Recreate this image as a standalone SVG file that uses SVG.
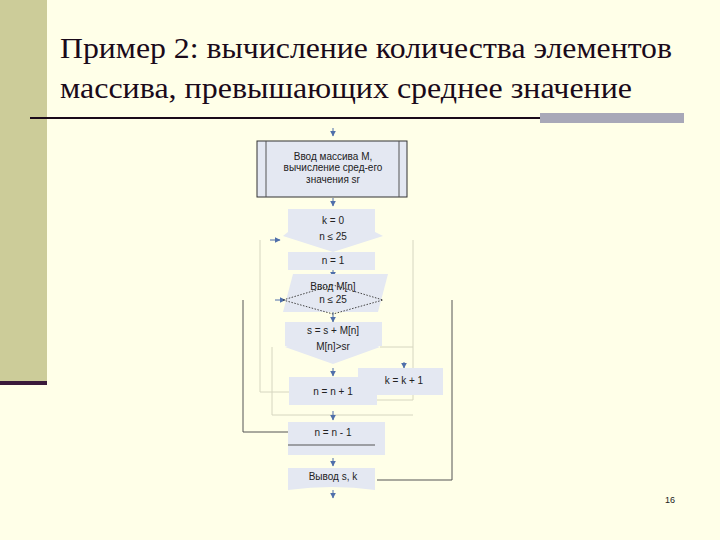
<svg xmlns="http://www.w3.org/2000/svg" width="720" height="540" viewBox="0 0 720 540">
<defs>
<marker id="ah" viewBox="0 0 10 10" refX="9" refY="5" markerWidth="6" markerHeight="6" orient="auto"><path d="M0,0L10,5L0,10z" fill="#4F6FAA"/></marker>
<style>
.b{fill:#E4E8F2;stroke:none}
.t{font-family:"Liberation Sans",Arial,sans-serif;font-size:10px;fill:#222;text-anchor:middle}
.f{fill:none;stroke:#D6D6C0;stroke-width:1}
.d{fill:none;stroke:#555;stroke-width:1}
.a{fill:none;stroke:#4F6FAA;stroke-width:1;marker-end:url(#ah)}
</style>
</defs>
<rect width="720" height="540" fill="#FFFFE8"/>
<rect x="0" y="0" width="47" height="383" fill="#CCCC99"/>
<rect x="0" y="381" width="47" height="4" fill="#3A1A3A"/>
<text x="60" y="58" font-family="Liberation Serif,serif" font-size="29" fill="#1a0a1a" textLength="612" lengthAdjust="spacingAndGlyphs">Пример 2: вычисление количества элементов</text>
<text x="60" y="98" font-family="Liberation Serif,serif" font-size="29" fill="#1a0a1a" textLength="572" lengthAdjust="spacingAndGlyphs">массива, превышающих среднее значение</text>
<rect x="30" y="117" width="512" height="2" fill="#1a0a1a"/>
<rect x="540" y="113" width="144" height="10" fill="#A8A8B8"/>
<g id="connectors">
<path class="d" d="M243,300V432H288"/>
<path class="d" d="M452,300V480H377"/>
<path class="f" d="M260,240V392H289"/>
<path class="f" d="M413,240V400H377"/>
<path class="f" d="M272,347V415H413"/>
<path class="f" d="M380,347H413"/>
<path class="a" d="M333,128V136"/>
<path class="a" d="M333,198V206"/>
<path class="a" d="M333,245V250"/>
<path class="a" d="M333,270V277"/>
<path class="a" d="M333,312V322"/>
<path class="a" d="M333,368V376"/>
<path class="a" d="M404,362V368"/>
<path class="a" d="M333,411V420"/>
<path class="a" d="M333,458V466"/>
<path class="a" d="M333,490V498"/>
<path class="a" d="M270,240H280"/>
<path class="a" d="M275,300H285"/>
</g>
<g id="input"><rect class="b" x="257" y="141" width="150" height="56" style="stroke:#333"/><path class="d" d="M266,141V197M399,141V197"/>
<text class="t" x="333" y="160">Ввод массива M,</text><text class="t" x="333" y="171">вычисление сред-его</text><text class="t" x="333" y="183">значения sr</text></g>
<g id="loop1"><path class="b" d="M288,209H375V232L383,236L333,252L283,236L288,232Z"/><text class="t" x="333" y="224">k = 0</text><text class="t" x="333" y="240">n ≤ 25</text></g>
<g id="n1"><rect class="b" x="288" y="252" width="87" height="18"/><text class="t" x="333" y="264">n = 1</text></g>
<g id="read"><path class="b" d="M293,274H388L378,312H283Z"/><path d="M283,300L333,285L383,300L333,314Z" fill="none" stroke="#444" stroke-dasharray="1.5,1.5"/><text class="t" x="333" y="290">Ввод M[n]</text><text class="t" x="333" y="303">n ≤ 25</text></g>
<g id="sum"><rect class="b" x="285" y="322" width="97" height="24"/><path d="M285,347L333,330L380,347L333,364Z" class="b" stroke="#444" stroke-dasharray="1.5,1.5"/><text class="t" x="333" y="334">s = s + M[n]</text><text class="t" x="333" y="350">M[n]&gt;sr</text></g>
<g id="k1"><rect class="b" x="358" y="368" width="85" height="27"/><text class="t" x="404" y="384">k = k + 1</text></g>
<g id="n2"><rect class="b" x="289" y="377" width="88" height="28"/><text class="t" x="333" y="395">n = n + 1</text></g>
<g id="n3"><rect class="b" x="288" y="422" width="97" height="33"/><path class="d" d="M288,445H375"/><text class="t" x="333" y="436">n = n - 1</text></g>
<g id="out"><path class="b" d="M288,468H375V490Q333,484 288,490Z"/><text class="t" x="333" y="480">Вывод s, k</text></g>
<text x="670" y="503" font-family="Liberation Sans,sans-serif" font-size="9" fill="#222" text-anchor="middle">16</text>
</svg>
